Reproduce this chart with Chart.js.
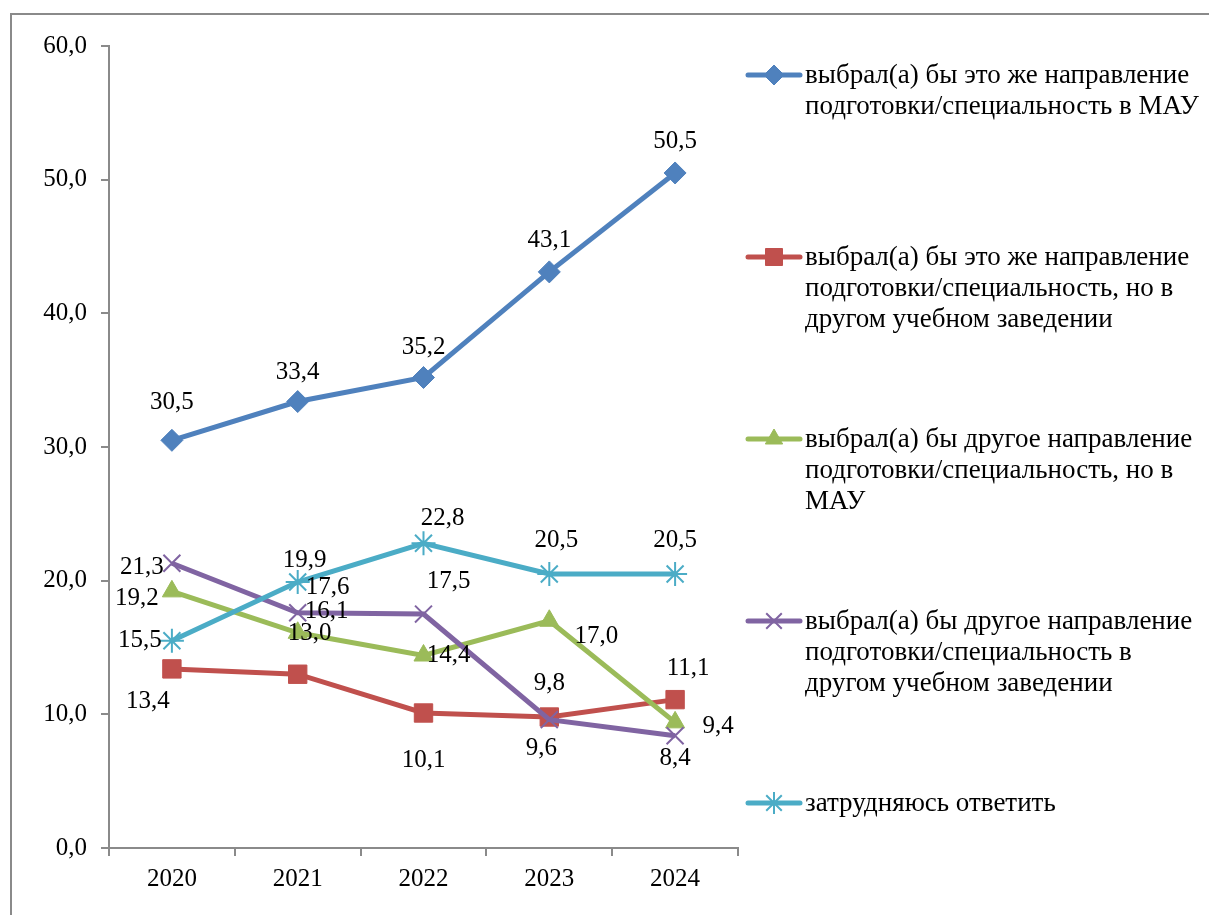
<!DOCTYPE html>
<html>
<head>
<meta charset="utf-8">
<script src="https://cdn.jsdelivr.net/npm/chart.js@4.4.1/dist/chart.umd.min.js"></script>
<style>
  body { margin: 0; background: #fff; }
</style>
</head>
<body>
<canvas id="chart" width="1209" height="915"></canvas>
<script>
// data
const years = ['2020', '2021', '2022', '2023', '2024'];
const seriesNames = [
  'выбрал(а) бы это же направление подготовки/специальность в МАУ',
  'выбрал(а) бы это же направление подготовки/специальность, но в другом учебном заведении',
  'выбрал(а) бы другое направление подготовки/специальность, но в МАУ',
  'выбрал(а) бы другое направление подготовки/специальность в другом учебном заведении',
  'затрудняюсь ответить'
];
const sameMau = [30.5, 33.4, 35.2, 43.1, 50.5];
const sameOther = [13.4, 13.0, 10.1, 9.8, 11.1];
const otherMau = [19.2, 16.1, 14.4, 17.0, 9.4];
const otherOther = [21.3, 17.6, 17.5, 9.6, 8.4];
const unsure = [15.5, 19.9, 22.8, 20.5, 20.5];
const yTicks = [0, 10, 20, 30, 40, 50, 60];

const FONT = '"Liberation Serif", "Times New Roman", serif';
const AXIS = '#8a8a8a';
const fmt = v => v.toFixed(1).replace('.', ',');

function series(i, values, color, style, radius, offsets) {
  return {
    label: seriesNames[i],
    data: values,
    borderColor: color,
    backgroundColor: color,
    borderWidth: 5,
    pointStyle: style,
    pointRadius: radius,
    pointHoverRadius: radius,
    pointBackgroundColor: color,
    pointBorderColor: color,
    pointBorderWidth: (style === 'crossRot' || style === 'star') ? 2 : 1,
    tension: 0,
    order: 4 - i,
    labelOffsets: offsets
  };
}

// frame round the chart (only top and left edges are visible)
const framePlugin = {
  id: 'frame',
  beforeDraw(chart) {
    const ctx = chart.ctx;
    ctx.save();
    ctx.fillStyle = '#fff';
    ctx.fillRect(0, 0, chart.width, chart.height);
    ctx.strokeStyle = AXIS;
    ctx.lineWidth = 2;
    ctx.beginPath();
    ctx.moveTo(11, chart.height);
    ctx.lineTo(11, 14);
    ctx.lineTo(chart.width, 14);
    ctx.stroke();
    ctx.restore();
  }
};

// value labels next to the points
const valueLabels = {
  id: 'valueLabels',
  afterDatasetsDraw(chart) {
    const ctx = chart.ctx;
    ctx.save();
    ctx.font = '25px ' + FONT;
    ctx.fillStyle = '#000';
    ctx.textAlign = 'center';
    ctx.textBaseline = 'middle';
    chart.data.datasets.forEach((ds, i) => {
      const meta = chart.getDatasetMeta(i);
      meta.data.forEach((pt, j) => {
        const off = ds.labelOffsets[j];
        ctx.fillText(fmt(ds.data[j]), pt.x + off[0], pt.y + off[1]);
      });
    });
    ctx.restore();
  }
};

// legend on the right with wrapped names
const sideLegend = {
  id: 'sideLegend',
  afterDraw(chart) {
    const ctx = chart.ctx;
    ctx.save();
    ctx.font = '27px ' + FONT;
    ctx.textBaseline = 'middle';
    ctx.textAlign = 'left';
    chart.data.datasets.forEach((ds, i) => {
      const y = 75 + i * 182;
      ctx.strokeStyle = ds.borderColor;
      ctx.lineWidth = 5;
      ctx.lineCap = 'round';
      ctx.beginPath();
      ctx.moveTo(748, y);
      ctx.lineTo(800, y);
      ctx.stroke();
      ctx.lineCap = 'butt';
      ctx.fillStyle = ds.borderColor;
      ctx.strokeStyle = ds.borderColor;
      ctx.lineWidth = ds.pointBorderWidth;
      Chart.helpers.drawPoint(ctx, {
        pointStyle: ds.pointStyle,
        radius: ds.pointRadius - 1,
        borderWidth: ds.pointBorderWidth,
        rotation: 0
      }, 774, y);
      // wrap the name
      const words = ds.label.split(' ');
      const lines = [];
      let cur = '';
      words.forEach(w => {
        const t = cur ? cur + ' ' + w : w;
        if (ctx.measureText(t).width > 395 && cur) {
          lines.push(cur);
          cur = w;
        } else {
          cur = t;
        }
      });
      lines.push(cur);
      ctx.fillStyle = '#000';
      lines.forEach((ln, k) => ctx.fillText(ln, 805, y + 1 + k * 31));
    });
    ctx.restore();
  }
};

const ctx = document.getElementById('chart').getContext('2d');
new Chart(ctx, {
  type: 'line',
  data: {
    labels: years,
    datasets: [
      series(0, sameMau, '#4F81BD', 'rectRot', 11,
        [[0, -38], [0, -29], [0, -30], [0, -31], [0, -32]]),
      series(1, sameOther, '#C0504D', 'rect', 13,
        [[-24, 33], [12, -41], [0, 47], [0, -34], [13, -31]]),
      series(2, otherMau, '#9BBB59', 'triangle', 11,
        [[-35, 7], [29, -21], [25, 0], [47, 16], [43, 4]]),
      series(3, otherOther, '#8064A2', 'crossRot', 12,
        [[-30, 4], [30, -25], [25, -33], [-8, 29], [0, 23]]),
      series(4, unsure, '#4BACC6', 'star', 12,
        [[-32, 0], [7, -22], [19, -25], [7, -34], [0, -34]])
    ]
  },
  options: {
    responsive: false,
    animation: false,
    layout: { padding: { left: 0, right: 471, top: 46, bottom: 0 } },
    plugins: {
      legend: { display: false },
      tooltip: { enabled: false }
    },
    scales: {
      x: {
        offset: true,
        grid: { offset: true, drawOnChartArea: false, tickLength: 8, color: AXIS, lineWidth: 2 },
        border: { color: AXIS, width: 2 },
        ticks: { color: '#000', font: { family: FONT, size: 25 }, padding: 8 },
        afterFit: s => { s.height = 67; }
      },
      y: {
        min: 0,
        max: 60,
        afterBuildTicks: s => { s.ticks = yTicks.map(v => ({ value: v })); },
        grid: { drawOnChartArea: false, tickLength: 8, color: AXIS, lineWidth: 2 },
        border: { color: AXIS, width: 2 },
        ticks: { color: '#000', font: { family: FONT, size: 25 }, padding: 14, callback: v => fmt(v) },
        afterFit: s => { s.width = 109; }
      }
    }
  },
  plugins: [framePlugin, valueLabels, sideLegend]
});
</script>
</body>
</html>
